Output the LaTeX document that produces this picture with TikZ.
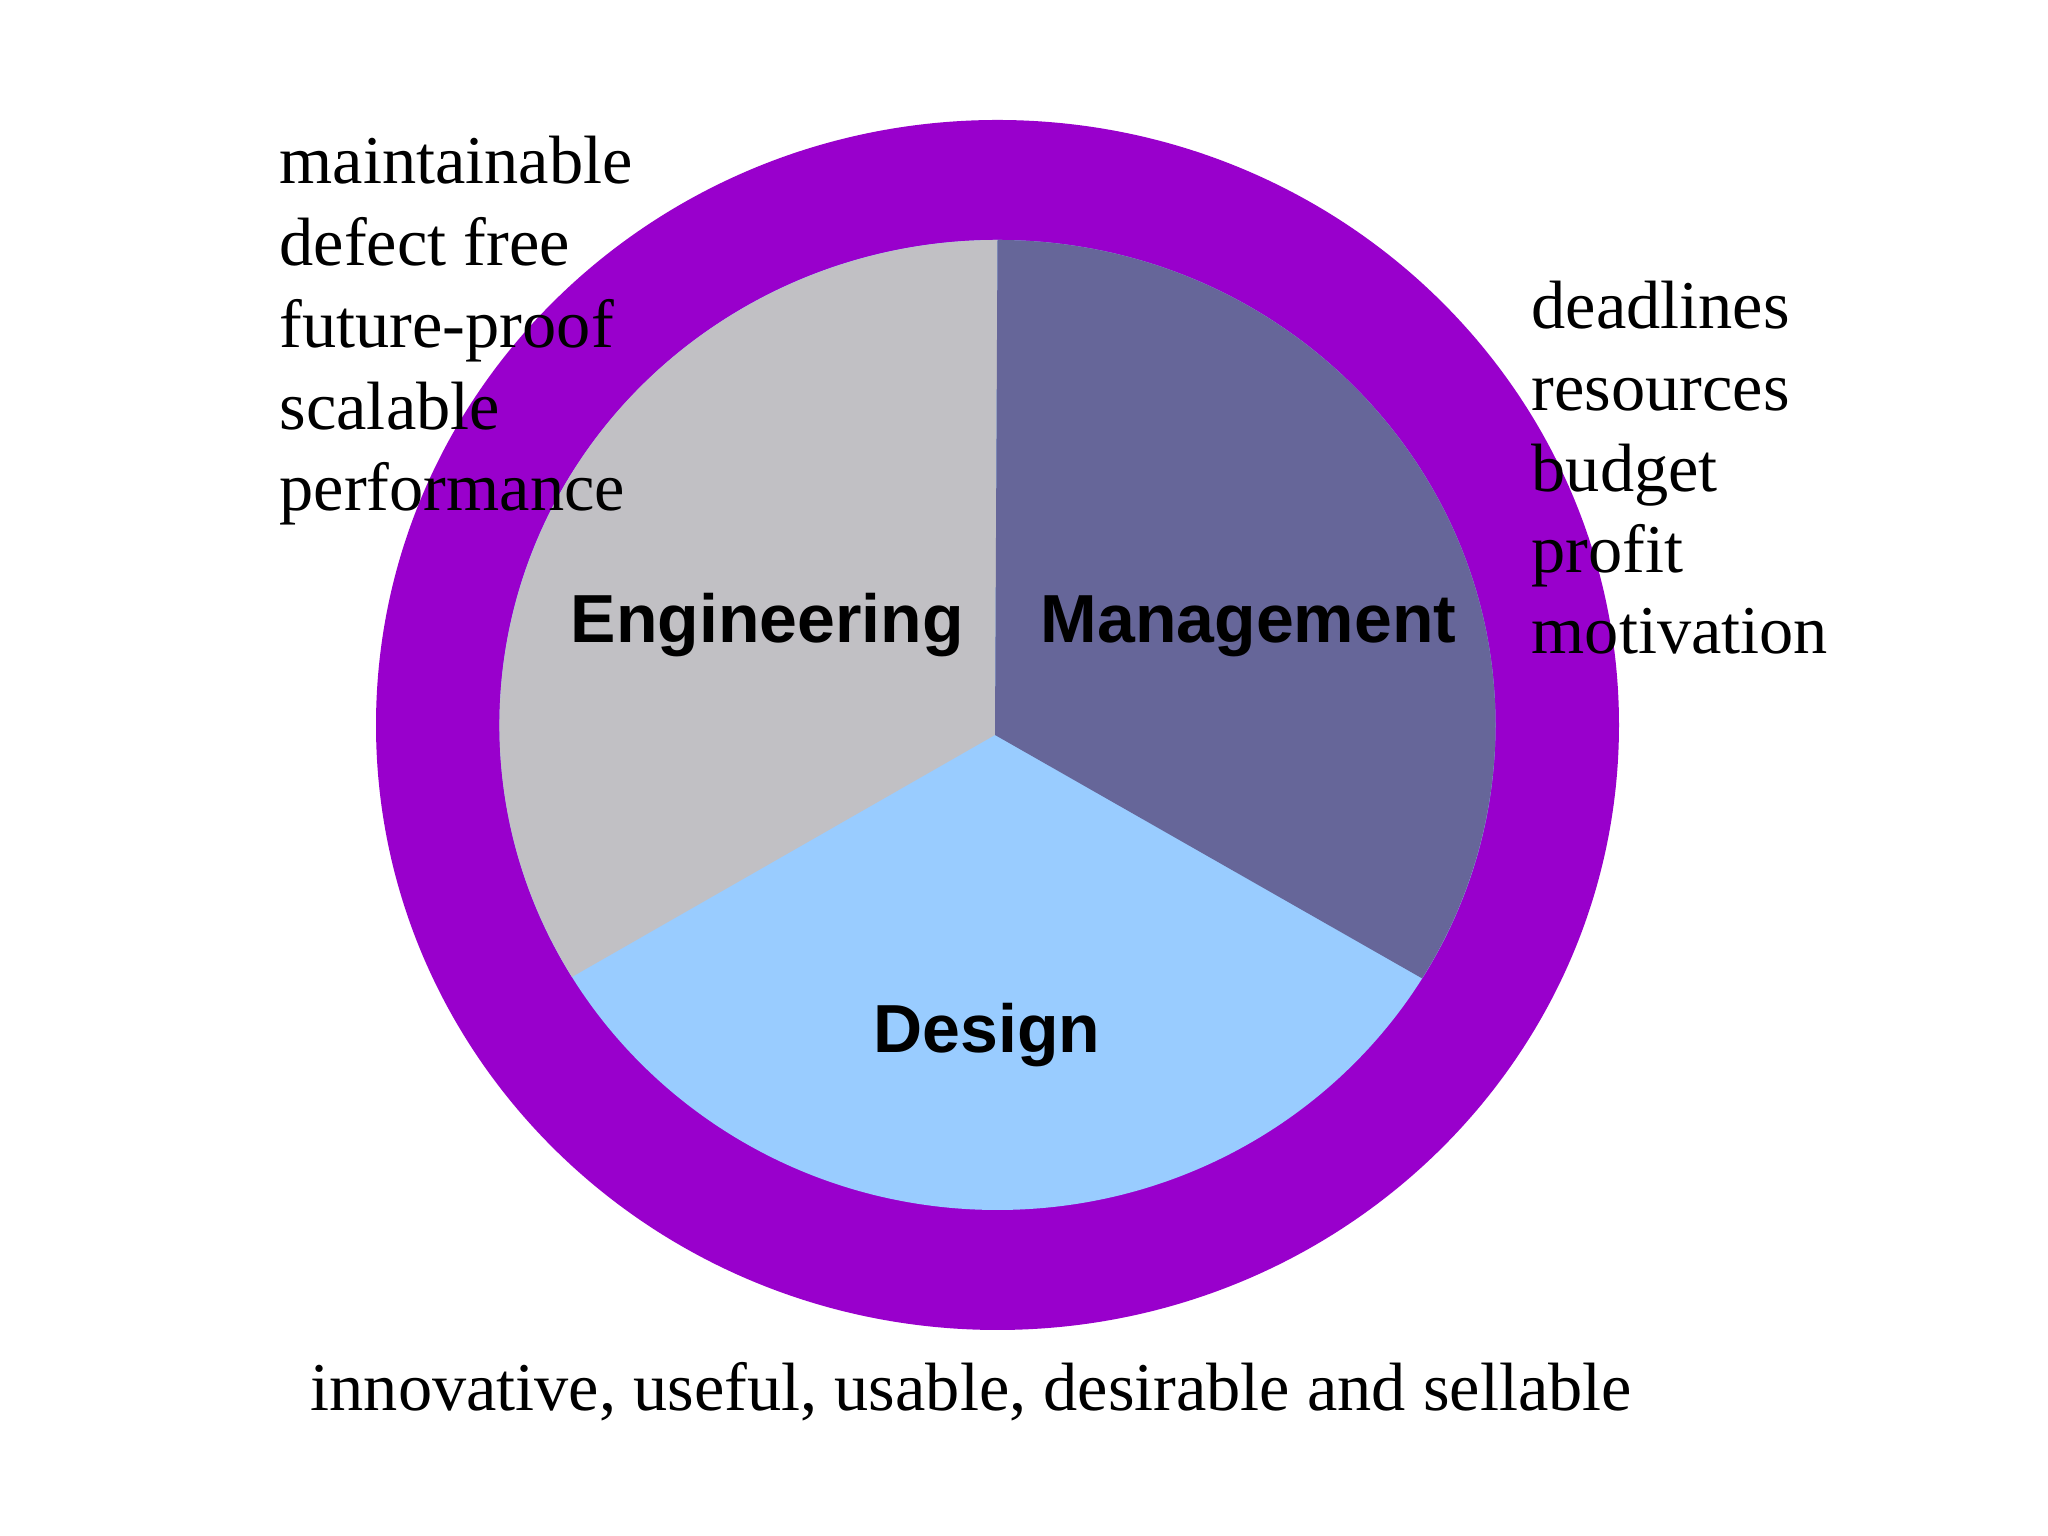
\documentclass[tikz,border=0pt]{standalone}
\usepackage{fontspec}
\usetikzlibrary{calc}
\setmainfont{Liberation Serif}
\newfontfamily\labelfont{Liberation Sans}
\definecolor{ringpurple}{RGB}{153,0,204}
\definecolor{enggray}{RGB}{193,192,196}
\definecolor{mgmtblue}{RGB}{102,102,153}
\definecolor{designblue}{RGB}{153,204,255}
\tikzset{
	listtxt/.style={anchor=base west,inner sep=0pt,font=\fontsize{19.45}{23}\selectfont},
	areatxt/.style={inner sep=0pt,font=\labelfont\bfseries\fontsize{19.35}{23}\selectfont}
}
\begin{document}
\begin{tikzpicture}
			\useasboundingbox[fill=white] (0,0) rectangle (20.48,15.36);
			\coordinate (c) at (9.975,8.11);
			\coordinate (apex) at (9.95,8.01);
			\fill[ringpurple] (c) ellipse (6.215 and 6.05);
			\fill[designblue] (c) ellipse (4.98 and 4.85);
			\fill[enggray] (apex) -- ($(c)+(211.3:4.98 and 4.85)$) arc[start angle=211.3,end angle=90,x radius=4.98,y radius=4.85] -- cycle;
			\fill[mgmtblue] (apex) -- ($(c)+(90:4.98 and 4.85)$) arc[start angle=90,end angle=-31.5,x radius=4.98,y radius=4.85] -- cycle;
			\node[areatxt,anchor=base west] (eng) at (5.70,8.93) {Engineering};
			\node[areatxt,anchor=base west] (mgmt) at (10.40,8.93) {Management};
			\node[areatxt,anchor=base] (design) at (9.87,4.83) {Design};
			\foreach \w [count=\i] in {maintainable,defect free,future-proof,scalable,performance}
				\node[listtxt] (englist\i) at (2.79,{13.52-(\i-1)*0.8175}) {\w};
			\foreach \w [count=\i] in {deadlines,resources,budget,profit,motivation}
				\node[listtxt] (mgmtlist\i) at (15.31,{12.07-(\i-1)*0.812}) {\w};
			\node[listtxt] (designlist) at (3.10,1.25) {innovative, useful, usable, desirable and sellable};
		\end{tikzpicture}
\end{document}
